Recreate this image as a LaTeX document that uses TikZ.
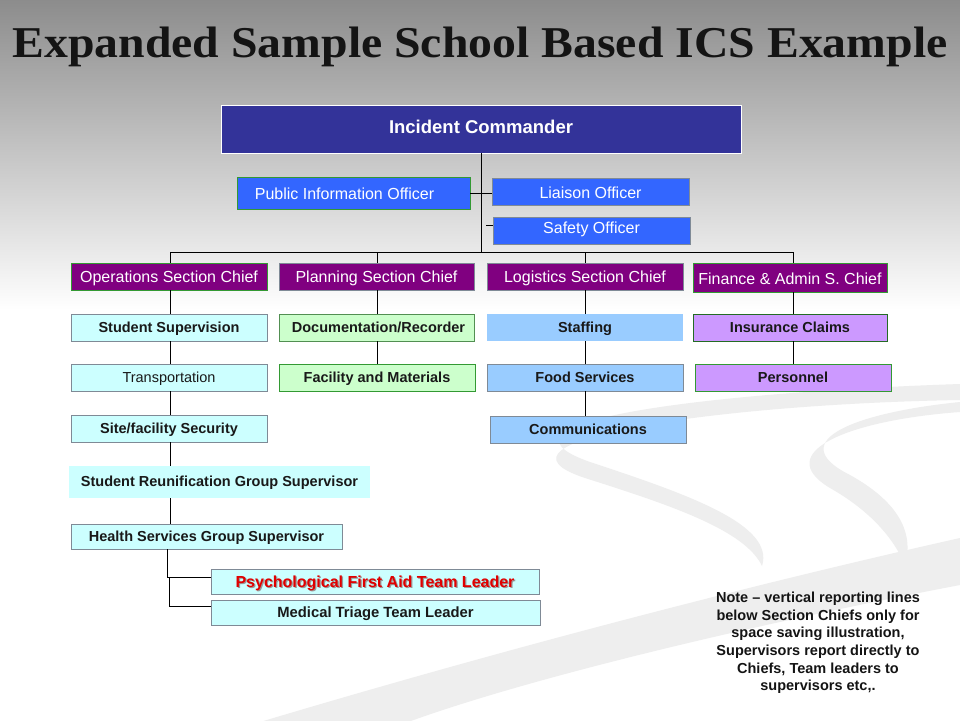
\documentclass[tikz,border=0pt]{standalone}
\usepackage{fontspec}
\setmainfont{Liberation Serif}
\setsansfont{Liberation Sans}
\definecolor{icblue}{HTML}{333399}
\definecolor{offblue}{HTML}{3366FF}
\definecolor{chiefpurple}{HTML}{800080}
\definecolor{grnborder}{HTML}{339933}
\definecolor{grayborder}{HTML}{7F8A96}
\definecolor{cyanfill}{HTML}{CCFFFF}
\definecolor{greenfill}{HTML}{CCFFCC}
\definecolor{lightblue}{HTML}{99CCFF}
\definecolor{lavender}{HTML}{CC99FF}
\definecolor{pfared}{HTML}{E00000}
\definecolor{swoosh}{HTML}{EEEEEE}
\tikzset{
  orgbox/.style={rectangle, inner sep=0pt, line width=0.8pt, align=center, text depth=0pt},
  cmdbox/.style={orgbox, fill=offblue, draw=grayborder, text=white, font=\sffamily\fontsize{16}{18}\selectfont},
  chiefbox/.style={orgbox, fill=chiefpurple, draw=grayborder, text=white, font=\sffamily\fontsize{16}{18}\selectfont},
  unitbox/.style={orgbox, draw=grayborder, text=black!90, font=\sffamily\bfseries\fontsize{14.5}{16}\selectfont},
  link/.style={draw=black, line width=0.9pt},
}
\begin{document}
\begin{tikzpicture}[x=1pt,y=-1pt]
\useasboundingbox (0,0) rectangle (960,720);
\fill[white] (0,0) rectangle (960,720);
\begin{scope}[yscale=-1]
\shade[top color=black!45, bottom color=white] (0,0) rectangle (960,-310);
\end{scope}
% background swooshes
\fill[swoosh] (250,725) .. controls (500,650) and (750,585) .. (960,538) -- (960,585) .. controls (750,625) and (520,680) .. (400,725) -- cycle;
\fill[swoosh] (960,384) .. controls (720,392) and (470,420) .. (590,462) .. controls (690,495) and (775,525) .. (762,566) .. controls (745,530) and (670,505) .. (585,478) .. controls (470,440) and (720,404) .. (960,400) -- cycle;
\fill[swoosh] (960,402) .. controls (860,412) and (780,440) .. (850,475) .. controls (895,500) and (915,530) .. (905,565) .. controls (890,530) and (860,505) .. (830,488) .. controls (770,452) and (850,420) .. (960,412) -- cycle;

% title
\node[font=\rmfamily\bfseries\fontsize{44}{50}\selectfont, text=black!92, inner sep=0pt] (title) at (480,47) {\scalebox{1.085}[1]{Expanded Sample School Based ICS Example}};

% command
\node[orgbox, fill=icblue, draw=white, text=white, minimum width=520pt, minimum height=48pt, font=\sffamily\bfseries\fontsize{18.5}{20}\selectfont] (ic) at (481,129) {\raisebox{4.5pt}{Incident Commander}};
\node[cmdbox, draw=grnborder, minimum width=233pt, minimum height=32pt] (pio) at (353.5,193) {\raisebox{-2pt}{Public Information Officer}\hspace{18pt}};
\node[cmdbox, minimum width=197pt, minimum height=27pt] (liaison) at (590.5,191.5) {\raisebox{-1.5pt}{Liaison Officer}};
\node[cmdbox, minimum width=197pt, minimum height=27pt] (safety) at (591.5,230.5) {\raisebox{5.5pt}{Safety Officer}};

% section chiefs
\node[chiefbox, draw=grnborder, minimum width=196pt, minimum height=27pt] (ops) at (169,276.5) {Operations Section Chief};
\node[chiefbox, minimum width=195pt, minimum height=27pt] (plan) at (376.5,276.5) {Planning Section Chief};
\node[chiefbox, minimum width=196pt, minimum height=27pt] (log) at (585,276.5) {Logistics Section Chief};
\node[chiefbox, draw=grnborder, minimum width=194pt, minimum height=29pt] (fin) at (790,277.5) {\raisebox{-1.5pt}{Finance \& Admin S. Chief}};

% units
\node[unitbox, fill=cyanfill, minimum width=196pt, minimum height=27pt] (stud) at (169,327.5) {Student Supervision};
\node[unitbox, fill=greenfill, draw=grnborder!60!gray, minimum width=195pt, minimum height=27pt] (doc) at (376.5,327.5) {\hspace{4pt}Documentation/Recorder};
\node[unitbox, fill=lightblue, draw=none, minimum width=196pt, minimum height=27pt] (staff) at (585,327.5) {Staffing};
\node[unitbox, fill=lavender, draw=grnborder!70!black, minimum width=194pt, minimum height=27pt] (ins) at (790,327.5) {Insurance Claims};
\node[unitbox, fill=cyanfill, font=\sffamily\fontsize{14.5}{16}\selectfont, minimum width=196pt, minimum height=27pt] (trans) at (169,377.5) {Transportation};
\node[unitbox, fill=greenfill, draw=grnborder, minimum width=196pt, minimum height=27pt] (fac) at (377,377.5) {Facility and Materials};
\node[unitbox, fill=lightblue, minimum width=196pt, minimum height=27pt] (food) at (585,377.5) {Food Services};
\node[unitbox, fill=lavender, draw=grnborder, minimum width=196pt, minimum height=27pt] (pers) at (793,377.5) {Personnel};
\node[unitbox, fill=cyanfill, minimum width=196pt, minimum height=27pt] (site) at (169,428.5) {Site/facility Security};
\node[unitbox, fill=lightblue, minimum width=196pt, minimum height=27pt] (comm) at (588,429.5) {Communications};
\node[unitbox, fill=cyanfill, draw=none, minimum width=301pt, minimum height=32pt] (reun) at (219.5,482) {\raisebox{2pt}{Student Reunification Group Supervisor}};
\node[unitbox, fill=cyanfill, minimum width=271pt, minimum height=25pt] (health) at (206.5,536.5) {Health Services Group Supervisor};
\node[unitbox, fill=cyanfill, text=pfared, font=\sffamily\bfseries\fontsize{16}{18}\selectfont, minimum width=328pt, minimum height=25pt] (pfa) at (375,581.5) {\rlap{\hspace{1.2pt}\raisebox{-1.2pt}{\textcolor{black!40}{Psychological First Aid  Team Leader}}}Psychological First Aid  Team Leader};
\node[unitbox, fill=cyanfill, font=\sffamily\bfseries\fontsize{14.8}{16}\selectfont, minimum width=329pt, minimum height=25pt] (mtl) at (375.5,612.5) {Medical Triage Team Leader};

% note
\node[font=\sffamily\bfseries\fontsize{14.5}{17.6}\selectfont, align=center, text=black!92, inner sep=0pt] (note) at (818,643) {Note -- vertical reporting lines\\below Section Chiefs only for\\space saving illustration,\\Supervisors report directly to\\Chiefs, Team leaders to\\supervisors etc,.};

% connectors
\coordinate (busC) at (481,252);
\coordinate (busL) at (170,252);
\coordinate (busP) at (377,252);
\coordinate (busG) at (585,252);
\coordinate (busR) at (793,252);
\coordinate (sft) at (486,225);
\draw[link] (ic.south -| busC) -- (busC);
\draw[link] (busL) -- (busR);
\draw[link] (pio.east) -- (liaison.west |- pio.east);
\draw[link] (sft) -- (safety.west |- sft);
\draw[link] (busL) -- (busL |- ops.north);
\draw[link] (busP) -- (busP |- plan.north);
\draw[link] (busG) -- (busG |- log.north);
\draw[link] (busR) -- (busR |- fin.north);
% operations column
\draw[link] (ops.south -| busL) -- (stud.north -| busL);
\draw[link] (stud.south -| busL) -- (trans.north -| busL);
\draw[link] (trans.south -| busL) -- (site.north -| busL);
\draw[link] (site.south -| busL) -- (reun.north -| busL);
\draw[link] (reun.south -| busL) -- (health.north -| busL);
\coordinate (hsA) at (167,577);
\coordinate (hsB) at (169,578);
\coordinate (hsC) at (169,606);
\draw[link] (health.south -| hsA) -- (hsA) -- (pfa.west |- hsA);
\draw[link] (hsB) -- (hsC) -- (mtl.west |- hsC);
% planning column
\draw[link] (plan.south -| busP) -- (doc.north -| busP);
\draw[link] (doc.south -| busP) -- (fac.north -| busP);
% logistics column
\draw[link] (log.south -| busG) -- (staff.north -| busG);
\draw[link] (staff.south -| busG) -- (food.north -| busG);
\draw[link] (food.south -| busG) -- (comm.north -| busG);
% finance column
\draw[link] (fin.south -| busR) -- (ins.north -| busR);
\draw[link] (ins.south -| busR) -- (pers.north -| busR);
\end{tikzpicture}
\end{document}
